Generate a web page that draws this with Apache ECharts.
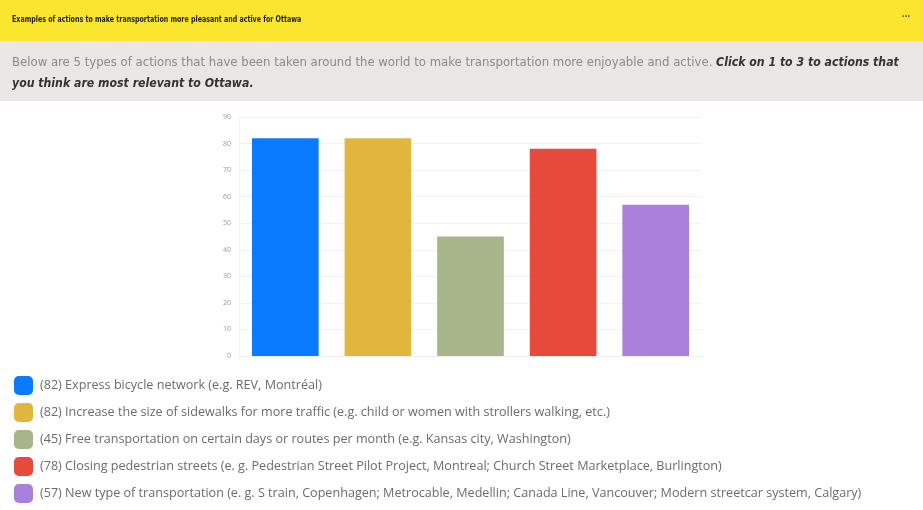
<!DOCTYPE html>
<html><head><meta charset="utf-8">
<script src="https://cdn.jsdelivr.net/npm/echarts@6/dist/echarts.min.js"></script>
<style>html,body{margin:0;padding:0;background:#fff}#c{width:923px;height:510px}</style>
</head><body><div id="c"></div>
<script>
const categories = ["A1","A2","A3","A4","A5"];
const values = [82, 82, 45, 78, 57];
const labels = [
  "(82) Express bicycle network (e.g. REV, Montréal)",
  "(82) Increase the size of sidewalks for more traffic (e.g. child or women with strollers walking, etc.)",
  "(45) Free transportation on certain days or routes per month (e.g. Kansas city, Washington)",
  "(78) Closing pedestrian streets (e. g. Pedestrian Street Pilot Project, Montreal; Church Street Marketplace, Burlington)",
  "(57) New type of transportation (e. g. S train, Copenhagen; Metrocable, Medellin; Canada Line, Vancouver; Modern streetcar system, Calgary)"
];
const colors = ["#0a7bff", "#e2b63e", "#a8b48a", "#e64a3b", "#a980dc"];
const yTicks = [0, 10, 20, 30, 40, 50, 60, 70, 80, 90];
const titleText = "Examples of actions to make transportation more pleasant and active for Ottawa";
const descNormal = "Below are 5 types of actions that have been taken around the world to make transportation more enjoyable and active. ";
const descBold1 = "Click on 1 to 3 to actions that";
const descBold2 = "you think are most relevant to Ottawa.";

const series = categories.map((c, i) => ({
  name: labels[i],
  type: 'bar',
  barGap: '-100%',
  barCategoryGap: '28%',
  itemStyle: { color: colors[i] },
  data: categories.map((cc, j) => j === i ? values[i] : '-')
}));

const chart = echarts.init(document.getElementById('c'));
chart.setOption({
  animation: false,
  backgroundColor: '#fff',
  grid: { left: 239, right: 221, top: 117, bottom: 154, containLabel: false },
  xAxis: {
    type: 'category', data: categories,
    axisLine: { show: true, lineStyle: { color: '#eee' } },
    axisTick: { show: false }, axisLabel: { show: false }
  },
  yAxis: {
    type: 'value', min: yTicks[0], max: yTicks[yTicks.length - 1], interval: 10,
    axisLine: { show: true, lineStyle: { color: '#eef3f8' } },
    axisTick: { show: false },
    axisLabel: { color: '#999', fontSize: 7, margin: 8, fontFamily: 'Open Sans' },
    splitLine: { lineStyle: { color: '#f2f2f2' } }
  },
  legend: {
    orient: 'vertical', left: 9, top: 371, height: 200,
    itemWidth: 19, itemHeight: 19, itemGap: 8,
    icon: 'roundRect',
    textStyle: { color: '#6b6b6b', fontSize: 12.6, fontFamily: 'Open Sans', padding: [0, 0, 0, 2] },
    data: labels
  },
  graphic: [
    { type: 'rect', left: 0, top: 0, shape: { width: 923, height: 41 }, style: { fill: '#fae52f' }, silent: true },
    { type: 'rect', left: 0, top: 41, shape: { width: 923, height: 60 }, style: { fill: '#ebe6e6' }, silent: true },
    { type: 'text', x: 12, y: 15, scaleX: 0.78, style: { text: titleText, fill: '#222', font: 'bold 9px "Liberation Sans Narrow", "DejaVu Sans Condensed", sans-serif' } },
    { type: 'text', left: 902, top: 9, style: { text: '...', fill: '#555', font: 'bold 10px sans-serif' } },
    { type: 'text', left: 12, top: 52, style: {
        text: '{n|' + descNormal + '}{b|' + descBold1 + '}\n{b|' + descBold2 + '}',
        lineHeight: 21,
        rich: {
          n: { fill: '#8a8a8a', font: '13px "Liberation Sans Narrow", "DejaVu Sans Condensed", sans-serif', lineHeight: 21 },
          b: { fill: '#333', font: 'italic bold 12.2px "Liberation Sans Narrow", "DejaVu Sans Condensed", sans-serif', lineHeight: 21 }
        }
    } }
  ],
  series: series
});
</script></body></html>
